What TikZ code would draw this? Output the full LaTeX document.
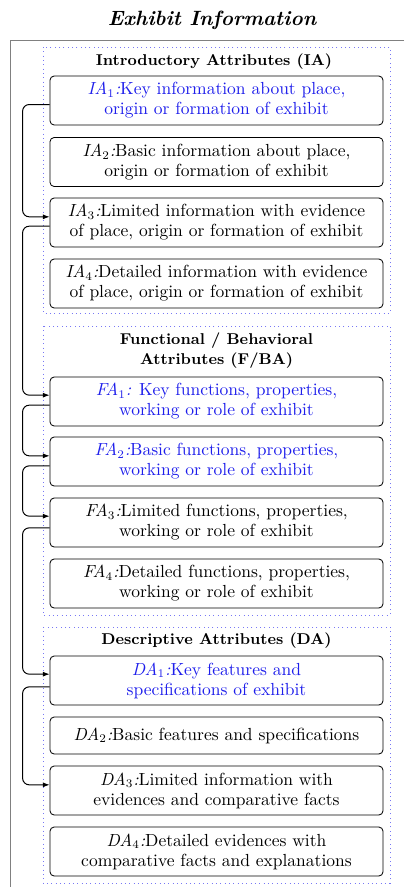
\documentclass[tikz,border=0pt]{standalone}
\usetikzlibrary{arrows.meta}
\definecolor{txtblue}{RGB}{30,30,235}
\definecolor{grpblue}{RGB}{120,120,245}
\newcommand{\lbl}[2]{\textit{#1}$_{#2}$\textit{:}}
\begin{document}
\begin{tikzpicture}[x=0.6pt,y=-0.6pt,
  box/.style={draw, line width=0.5pt, rounded corners=2.5pt, minimum width=199.8pt, minimum height=29.4pt, align=center, inner sep=1pt, font=\fontsize{10.5}{12}\selectfont},
  smallbox/.style={box, minimum height=22.2pt},
  hl/.style={text=txtblue},
  grp/.style={draw=grpblue, dotted, line width=0.6pt},
  hdr/.style={font=\fontsize{9.4}{12}\selectfont\bfseries, align=center, inner sep=0pt},
  conn/.style={draw, line width=0.6pt, rounded corners=4pt, -{Latex[length=4pt,width=3pt]}}]
\useasboundingbox (0,0) rectangle (404,887);
\node[font=\fontsize{12.4}{14}\selectfont\bfseries\itshape, inner sep=0pt] (title) at (212,20) {Exhibit Information};
\draw[gray, line width=0.6pt] (404,40) -| (10,887);
% groups
\draw[grp] (43,47) rectangle (390,313);
\draw[grp] (43,326) rectangle (390,615);
\draw[grp] (43,627) rectangle (390,883);
% headers
\node[hdr] (hIA) at (214,62) {Introductory Attributes (IA)};
\node[hdr] (hFA) at (216.5,351) {Functional / Behavioral\\Attributes (F/BA)};
\node[hdr] (hDA) at (216.5,641) {Descriptive Attributes (DA)};
% IA
\node[box,hl] (IA1) at (216.5,100.5) {\lbl{IA}{1}Key information about place,\\origin or formation of exhibit};
\node[box] (IA2) at (216.5,162) {\lbl{IA}{2}Basic information about place,\\origin or formation of exhibit};
\node[box] (IA3) at (216.5,222.5) {\lbl{IA}{3}Limited information with evidence\\of place, origin or formation of exhibit};
\node[box] (IA4) at (216.5,283.5) {\lbl{IA}{4}Detailed information with evidence\\of place, origin or formation of exhibit};
% FA
\node[box,hl] (FA1) at (216.5,401.5) {\lbl{FA}{1} Key functions, properties,\\working or role of exhibit};
\node[box,hl] (FA2) at (216.5,461.5) {\lbl{FA}{2}Basic functions, properties,\\working or role of exhibit};
\node[box] (FA3) at (216.5,522.5) {\lbl{FA}{3}Limited functions, properties,\\working or role of exhibit};
\node[box] (FA4) at (216.5,583.5) {\lbl{FA}{4}Detailed functions, properties,\\working or role of exhibit};
% DA
\node[box,hl] (DA1) at (216.5,680.5) {\lbl{DA}{1}Key features and\\specifications of exhibit};
\node[smallbox] (DA2) at (216.5,735.5) {\lbl{DA}{2}Basic features and specifications};
\node[box] (DA3) at (216.5,790.5) {\lbl{DA}{3}Limited information with\\evidences and comparative facts};
\node[box] (DA4) at (216.5,851.5) {\lbl{DA}{4}Detailed evidences with\\comparative facts and explanations};
% connectors
\draw[conn] ([yshift=-2.4pt]IA1.west) -- ++(-27,0) |- ([yshift=3.4pt]IA3.west);
\draw[conn] ([yshift=-2.2pt]IA3.west) -- ++(-27,0) |- ([yshift=3.8pt]FA1.west);
\draw[conn] ([yshift=-2.2pt]FA1.west) -- ++(-27,0) |- ([yshift=3.4pt]FA2.west);
\draw[conn] ([yshift=-2.6pt]FA2.west) -- ++(-27,0) |- ([yshift=3.8pt]FA3.west);
\draw[conn] ([yshift=-3.2pt]FA3.west) -- ++(-27,0) |- ([yshift=3.8pt]DA1.west);
\draw[conn] ([yshift=-3.8pt]DA1.west) -- ++(-27,0) |- ([yshift=3.4pt]DA3.west);
\end{tikzpicture}
\end{document}
